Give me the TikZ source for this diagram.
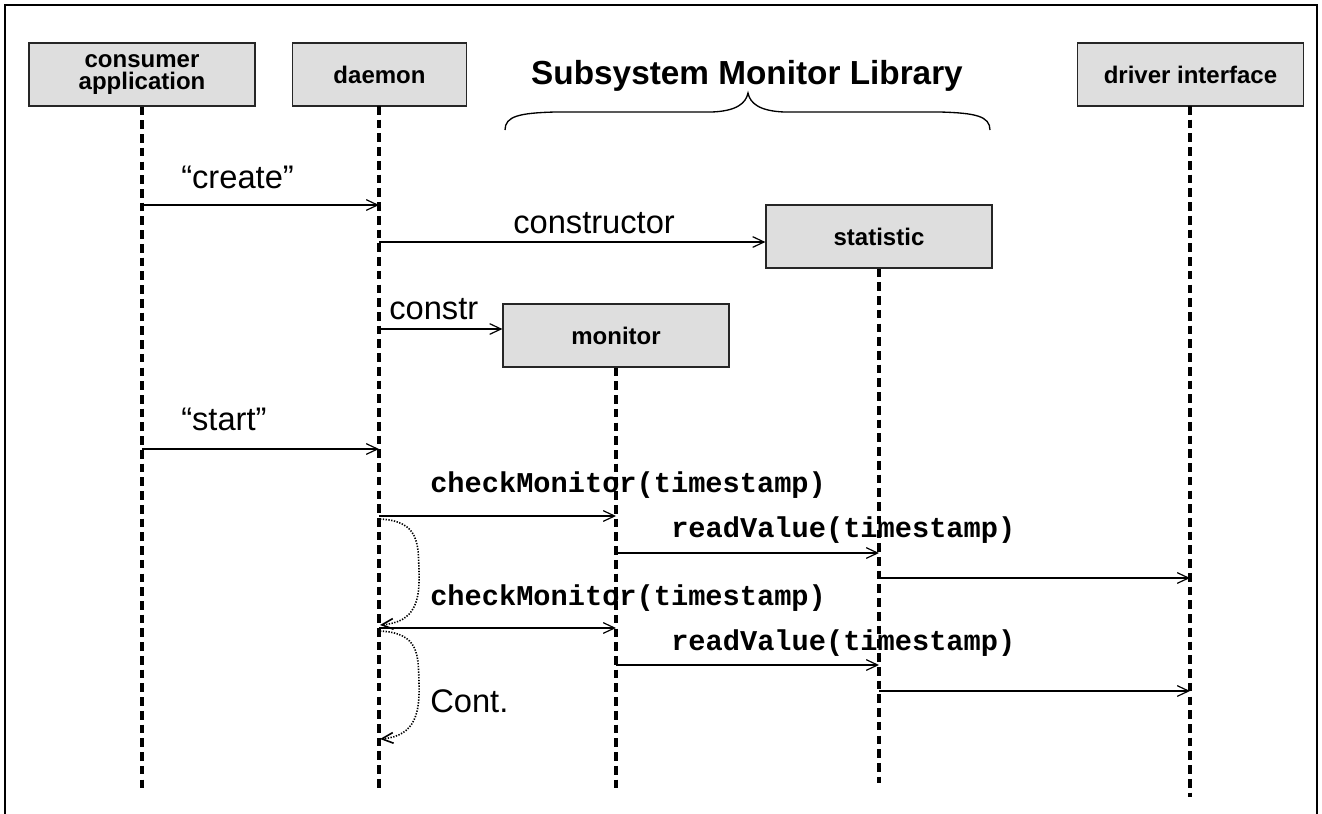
\documentclass[tikz,border=0pt]{standalone}
\usepackage{fontspec}
\setmainfont{Liberation Sans}
\newfontfamily\codefont{Liberation Mono}
\usetikzlibrary{arrows.meta}

\begin{document}
\begin{tikzpicture}[x=0.75pt,y=-0.75pt,
  obj/.style={draw=black!85, fill=black!13, line width=0.9pt,
    font=\bfseries\fontsize{18}{16.5}\selectfont, align=center,
    inner sep=0pt, minimum height=47.25pt},
  life/.style={line width=2.4pt, dash pattern=on 6.5pt off 3.8pt},
  msg/.style={line width=0.9pt, -{Straight Barb[length=8.5pt,width=8pt]}},
  loopback/.style={line width=1.2pt, dash pattern=on 1pt off 1.1pt,
    -{Straight Barb[length=8.5pt,width=8pt]}},
  lbl/.style={inner sep=0pt, anchor=base west, font=\fontsize{24.5}{28}\selectfont},
  code/.style={inner sep=0pt, anchor=base west, font=\codefont\bfseries\fontsize{21.5}{24}\selectfont},
]
\useasboundingbox (0,0) rectangle (1322,814);

% frame (open at the bottom)
\draw[line width=1.5pt] (5,814) -- (5,5) -- (1317,5) -- (1317,814);

% objects
\node[obj, minimum width=169.5pt] (cons) at (142,74.5) {consumer\\application};
\node[obj, minimum width=131pt]   (daem) at (379.5,74.5) {daemon};
\node[obj, minimum width=169pt]   (drv)  at (1190.5,74.5) {driver interface};
\node[obj, minimum width=169.5pt] (stat) at (879,236.5) {statistic};
\node[obj, minimum width=169.5pt] (mon)  at (616,335.5) {monitor};

% library heading and brace
\node[inner sep=0pt, anchor=base, font=\bfseries\fontsize{25}{30}\selectfont]
  (title) at (747,84) {Subsystem Monitor Library};
\draw[line width=1pt] (505,130) .. controls (505,116) and (520,113) .. (555,112)
  -- (712,112) .. controls (737,111) and (746,103) .. (748,93)
  .. controls (750,103) and (759,111) .. (784,112)
  -- (940,112) .. controls (975,113) and (990,116) .. (990,130);

% lifelines
\coordinate (consEnd) at (142,790);
\coordinate (daemEnd) at (379,790);
\coordinate (monEnd)  at (616,790);
\coordinate (statEnd) at (879,783);
\coordinate (drvEnd)  at (1190,797);
\draw[life] (cons.south) -- (consEnd);
\draw[life] (379,106) -- (daemEnd);
\draw[life] (mon.south) -- (monEnd);
\draw[life] (stat.south) -- (statEnd);
\draw[life] (1190,106) -- (drvEnd);

% message end points
\coordinate (cCreate) at (142,205);  \coordinate (dCreate) at (379,205);
\coordinate (dCtor)   at (379,242);
\coordinate (dCtr)    at (379,329);
\coordinate (cStart)  at (142,449);  \coordinate (dStart)  at (379,449);
\coordinate (dChk1)   at (379,516);  \coordinate (mChk1)   at (616,516);
\coordinate (mRd1)    at (616,553);  \coordinate (sRd1)    at (879,553);
\coordinate (sDrv1)   at (879,578);  \coordinate (vDrv1)   at (1190,578);
\coordinate (dChk2)   at (379,628);  \coordinate (mChk2)   at (616,628);
\coordinate (mRd2)    at (616,665);  \coordinate (sRd2)    at (879,665);
\coordinate (sDrv2)   at (879,691);  \coordinate (vDrv2)   at (1190,691);
\coordinate (loopAs)  at (380,519);  \coordinate (loopAe)  at (380,625);
\coordinate (loopBs)  at (380,631);  \coordinate (loopBe)  at (380,739);

% messages
\draw[msg] (cCreate) -- (dCreate);
\draw[msg] (dCtor) -- (dCtor -| stat.west);
\draw[msg] (dCtr) -- (dCtr -| mon.west);
\draw[msg] (cStart) -- (dStart);
\draw[msg] (dChk1) -- (mChk1);
\draw[msg] (mRd1) -- (sRd1);
\draw[msg] (sDrv1) -- (vDrv1);
\draw[msg] (dChk2) -- (mChk2);
\draw[msg] (mRd2) -- (sRd2);
\draw[msg] (sDrv2) -- (vDrv2);

% periodic repetition
\draw[loopback] (loopAs) .. controls (420,521) and (418,545) .. (419,570)
  .. controls (420,600) and (416,622) .. (loopAe);
\draw[loopback] (loopBs) .. controls (420,633) and (418,656) .. (419,682)
  .. controls (420,712) and (416,736) .. (loopBe);

% labels
\node[lbl] (lCreate) at (181,188) {“create”};
\node[lbl] (lCtor)   at (513,233) {constructor};
\node[lbl] (lCtr)    at (389,319) {constr};
\node[lbl] (lStart)  at (181,430) {“start”};
\node[lbl] (lCont)   at (430,712) {Cont.};
\node[code] (lChk1)  at (430,492) {checkMonitor(timestamp)};
\node[code] (lRd1)   at (671,537) {readValue(timestamp)};
\node[code] (lChk2)  at (430,605) {checkMonitor(timestamp)};
\node[code] (lRd2)   at (671,650) {readValue(timestamp)};
\end{tikzpicture}
\end{document}
